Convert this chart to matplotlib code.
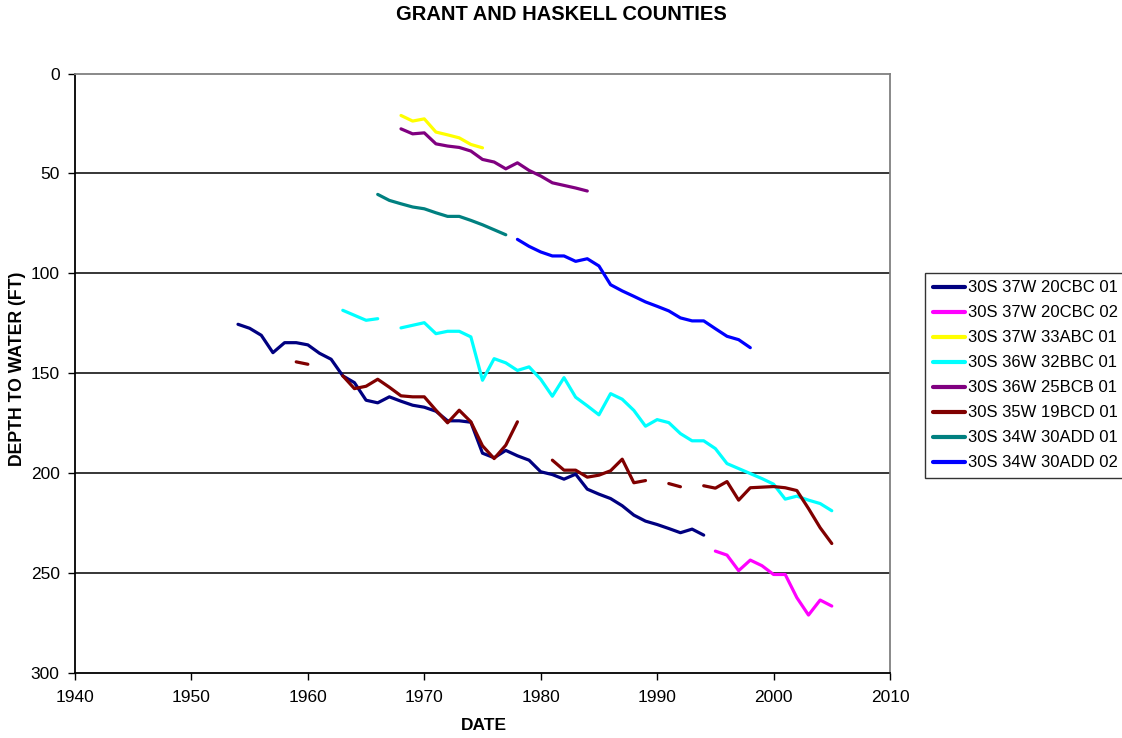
import numpy as np
import matplotlib
matplotlib.use('Agg')
import matplotlib.pyplot as plt

plt.rcParams['font.family'] = ['Liberation Sans', 'DejaVu Sans']

nan = np.nan

# well series: years and depth to water (ft); nan = missing year (gap)
years_20cbc01 = list(range(1954, 1995))
depth_20cbc01 = [125.5, 127.5, 131, 139.7, 134.7, 134.7, 135.8, 140, 143, 151.3,
                 154.7, 163.5, 164.8, 161.8, 164, 166, 167, 169, 173.8, 173.8,
                 174.5, 190, 192.3, 188.6, 191.3, 193.5, 199.3, 200.7, 203, 200.5,
                 208, 210.5, 212.7, 216.3, 221, 224, 225.7, 227.7, 229.8, 228,
                 231]

years_20cbc02 = list(range(1995, 2006))
depth_20cbc02 = [239, 241, 248.8, 243.5, 246.3, 250.7, 250.7, 262.3, 271, 263.5, 266.5]

years_33abc01 = list(range(1968, 1976))
depth_33abc01 = [21, 23.8, 22.7, 29.3, 30.7, 32.2, 35.5, 37.2]

years_32bbc01 = list(range(1963, 2006))
depth_32bbc01 = [118.5, 121, 123.5, 122.7, nan, 127.3, 126, 124.7, 130.2, 129,
                 129, 131.8, 153.5, 142.7, 144.8, 148.6, 146.8, 153, 161.5, 152.2,
                 162, 166.3, 170.8, 160.2, 163, 168.6, 176.5, 173.2, 174.7, 180.2,
                 183.8, 183.8, 187.7, 195.2, 197.7, 200.2, 202.7, 205.5, 213, 211.5,
                 213.5, 215.2, 218.8]

years_25bcb01 = list(range(1968, 1985))
depth_25bcb01 = [27.7, 30.2, 29.7, 35.2, 36.3, 37, 38.8, 43, 44.3, 47.7,
                 44.7, 48.5, 51.3, 54.7, 56, 57.3, 58.8]

years_19bcd01 = list(range(1959, 2006))
depth_19bcd01 = [144.3, 145.5, nan, nan, 151.3, 157.7, 156.5, 153, 157, 161.3,
                 161.8, 161.8, 168.5, 174.8, 168.5, 174.3, 186.3, 192.7, 186, 174.3,
                 nan, nan, 193.5, 198.5, 198.5, 202, 201, 198.8, 193, 204.8,
                 203.7, nan, 205.2, 206.8, nan, 206.3, 207.5, 204.2, 213.5, 207.3,
                 207, 206.7, 207.3, 208.7, 217.7, 227.3, 235.2]

years_30add01 = list(range(1966, 1978))
depth_30add01 = [60.5, 63.5, 65.2, 66.8, 67.7, 69.7, 71.5, 71.5, 73.5, 75.7, 78.2, 80.7]

years_30add02 = list(range(1978, 1999))
depth_30add02 = [83, 86.5, 89.3, 91.3, 91.3, 94, 92.7, 96.3, 105.7, 108.8,
                 111.5, 114.3, 116.5, 118.8, 122.3, 123.8, 123.8, 127.7, 131.5, 133.2,
                 137.2]

series = [
    ('30S 37W 20CBC 01', years_20cbc01, depth_20cbc01, '#000080'),
    ('30S 37W 20CBC 02', years_20cbc02, depth_20cbc02, '#FF00FF'),
    ('30S 37W 33ABC 01', years_33abc01, depth_33abc01, '#FFFF00'),
    ('30S 36W 32BBC 01', years_32bbc01, depth_32bbc01, '#00FFFF'),
    ('30S 36W 25BCB 01', years_25bcb01, depth_25bcb01, '#800080'),
    ('30S 35W 19BCD 01', years_19bcd01, depth_19bcd01, '#800000'),
    ('30S 34W 30ADD 01', years_30add01, depth_30add01, '#008080'),
    ('30S 34W 30ADD 02', years_30add02, depth_30add02, '#0000FF'),
]

fig = plt.figure(figsize=(11.22, 7.38), dpi=100)
ax = fig.add_axes([75 / 1122, 1 - 673 / 738, 815 / 1122, 599.5 / 738])

for label, yrs, dep, color in series:
    ax.plot(yrs, dep, color=color, lw=2.3, label=label, solid_capstyle='round')

ax.set_xlim(1940, 2010)
ax.set_ylim(300, 0)
ax.set_xticks(range(1940, 2011, 10))
ax.set_yticks(range(0, 301, 50))
for y in range(50, 300, 50):
    ax.axhline(y, color='black', lw=1.1, zorder=0)

ax.spines['left'].set_color('black')
ax.spines['bottom'].set_color('black')
ax.spines['top'].set_color('#808080')
ax.spines['right'].set_color('#808080')
for s in ax.spines.values():
    s.set_linewidth(1.3)

ax.tick_params(axis='x', direction='out', length=5, width=1, labelsize=12.5, pad=7)
ax.tick_params(axis='y', direction='out', length=5, width=1, labelsize=12.5, pad=6)

fig.text(0.5, 1 - 15 / 738, 'GRANT AND HASKELL COUNTIES', ha='center', va='center',
         fontsize=14.5, fontweight='bold')
fig.text(484 / 1122, 1 - 725 / 738, 'DATE', ha='center', va='center',
         fontsize=12.5, fontweight='bold')
fig.text(18 / 1122, 1 - 369 / 738, 'DEPTH TO WATER (FT)', ha='center', va='center',
         rotation=90, fontsize=12.7, fontweight='bold')

leg = fig.legend(loc='upper left', bbox_to_anchor=(925 / 1122, 1 - 273 / 738),
                 frameon=True, fancybox=False, shadow=False, fontsize=12,
                 handlelength=1.95, handletextpad=0.15, labelspacing=0.6,
                 borderpad=0.45, borderaxespad=0)
leg.get_frame().set_edgecolor('black')
leg.get_frame().set_linewidth(1.0)
for line in leg.get_lines():
    line.set_linewidth(3)

fig.savefig('out.png', dpi=100)
